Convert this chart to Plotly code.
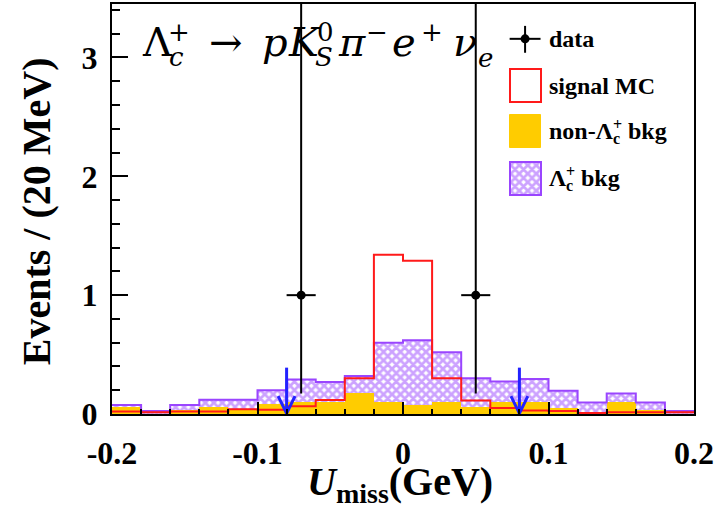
import numpy as np
import plotly.graph_objects as go

# ---------------- data ----------------
bin_low = -0.2
bin_width = 0.02
signal_mc = [0.02, 0.015, 0.02, 0.02, 0.04, 0.036, 0.065, 0.117, 0.30, 1.34,
             1.29, 0.30, 0.114, 0.05, 0.03, 0.025, 0.008, 0.015, 0.015, 0.015]
non_lc_bkg = [0.055, 0.0, 0.03, 0.055, 0.04, 0.08, 0.105, 0.10, 0.178, 0.105,
              0.078, 0.103, 0.055, 0.103, 0.105, 0.05, 0.0, 0.103, 0.035, 0.0]
lc_bkg = [0.02, 0.025, 0.045, 0.065, 0.08, 0.12, 0.185, 0.17, 0.142, 0.495,
          0.542, 0.417, 0.245, 0.17, 0.19, 0.145, 0.097, 0.07, 0.062, 0.025]
data_x = [-0.07, 0.05]
data_y = [1, 1]
data_err_lo = [0.827, 0.827]
data_err_hi = [2.5, 2.5]
data_xerr = [0.01, 0.01]
cut_values = [-0.08, 0.08]
arrow_top = 0.39
x_tick_vals = [-0.2, -0.1, 0, 0.1, 0.2]
x_tick_text = ["-0.2", "-0.1", "0", "0.1", "0.2"]
y_tick_vals = [0, 1, 2, 3]
y_tick_text = ["0", "1", "2", "3"]

# ---------------- style ----------------
W, H = 716, 515
ML, MR, MT, MB = 112, 20, 2, 101
YELLOW = "#ffcc00"
RED = "#ff1a1a"
PURPLE = "#9a45ff"
BLUE = "#2222ff"
SERIF = "Liberation Serif"
HATCH = dict(shape="x", fgcolor=PURPLE, bgcolor="white", size=6, solidity=0.7)

n = len(signal_mc)
edges = bin_low + bin_width * np.arange(n + 1)
centers = edges[:-1] + bin_width / 2
stack_top = np.array(non_lc_bkg) + np.array(lc_bkg)

def step(vals):
    return list(edges), list(vals) + [vals[-1]]

fig = go.Figure()

fig.add_trace(go.Bar(x=centers, y=non_lc_bkg, width=bin_width,
                     marker=dict(color=YELLOW, line=dict(width=0)),
                     showlegend=False))
fig.add_trace(go.Bar(x=centers, y=lc_bkg, base=non_lc_bkg, width=bin_width,
                     marker=dict(color="white", line=dict(width=0), pattern=HATCH),
                     showlegend=False))
sx, sy = step(list(stack_top))
fig.add_trace(go.Scatter(x=sx, y=sy, mode="lines", line=dict(shape="hv", color=PURPLE, width=2),
                         showlegend=False, hoverinfo="skip"))
sx, sy = step(signal_mc)
fig.add_trace(go.Scatter(x=sx, y=sy, mode="lines", line=dict(shape="hv", color=RED, width=2),
                         showlegend=False, hoverinfo="skip"))

# data points
fig.add_trace(go.Scatter(x=data_x, y=data_y, mode="markers",
                         marker=dict(color="black", size=9),
                         error_y=dict(type="data", symmetric=False, array=data_err_hi,
                                      arrayminus=data_err_lo, color="black", thickness=2, width=0),
                         error_x=dict(type="data", array=data_xerr, color="black", thickness=2, width=0),
                         showlegend=False))

# cut arrows
head_dx, head_dy = 0.0058, 0.15
for c in cut_values:
    fig.add_trace(go.Scatter(x=[c, c, None, c - head_dx, c, c + head_dx],
                             y=[arrow_top, 0.005, None, head_dy, 0.005, head_dy],
                             mode="lines", line=dict(color=BLUE, width=3),
                             showlegend=False, hoverinfo="skip"))

# ---------------- legend glyphs on a pixel-unit overlay axis ----------------
LEG = dict(x0=511, x1=542)
lx = (LEG["x0"] + LEG["x1"]) / 2
lw = LEG["x1"] - LEG["x0"]
fig.add_trace(go.Bar(x=[lx], y=[33], base=[67], width=[lw], xaxis="x2", yaxis="y2",
                     marker=dict(color="white", line=dict(color=RED, width=2)), showlegend=False))
fig.add_trace(go.Bar(x=[lx], y=[33], base=[114], width=[lw], xaxis="x2", yaxis="y2",
                     marker=dict(color=YELLOW, line=dict(color=YELLOW, width=1)), showlegend=False))
fig.add_trace(go.Bar(x=[lx], y=[33], base=[161], width=[lw], xaxis="x2", yaxis="y2",
                     marker=dict(color="white", line=dict(color=PURPLE, width=2), pattern=HATCH),
                     showlegend=False))
fig.add_trace(go.Scatter(x=[LEG["x0"], LEG["x1"], None, lx, lx], y=[37, 37, None, 24, 51],
                         xaxis="x2", yaxis="y2", mode="lines", line=dict(color="black", width=2),
                         showlegend=False, hoverinfo="skip"))
fig.add_trace(go.Scatter(x=[lx], y=[37], xaxis="x2", yaxis="y2", mode="markers",
                         marker=dict(color="black", size=9), showlegend=False, hoverinfo="skip"))

ann = []
leg_font = dict(family=SERIF, size=24, color="black", weight="bold")
leg_small = dict(family=SERIF, size=16, color="black", weight="bold")
leg_pieces = [
    ("data", 548, 37, leg_font),
    ("signal MC", 548, 84, leg_font),
    ("non-Λ", 548, 130, leg_font),
    ("+", 613, 123, leg_small),
    ("c", 613, 137, leg_small),
    ("bkg", 628, 130, leg_font),
    ("Λ", 548, 177, leg_font),
    ("+", 566, 170, leg_small),
    ("c", 566, 184, leg_small),
    ("bkg", 581, 177, leg_font),
]
for txt, xx, yy, f in leg_pieces:
    ann.append(dict(x=xx, y=yy, xref="x2", yref="y2", text=txt, showarrow=False,
                    xanchor="left", yanchor="middle", font=f))

# title formula, composed in pieces so sub/superscripts stack
MF = "DejaVu Serif"
big = dict(family=MF, size=40, color="black")
small = dict(family=MF, size=26, color="black")
by = 40
pieces = [
    ("Λ", 140, by, big),
    ("+", 166, by - 10, small),
    ("<i>c</i>", 167, by + 15, small),
    ("→", 207, by, big),
    ("<i>p</i>", 261, by, big),
    ("<i>K</i>", 287, by, big),
    ("0", 316, by - 10, small),
    ("<i>S</i>", 314, by + 15, small),
    ("<i>π</i>", 337, by, big),
    ("−", 365, by - 10, small),
    ("<i>e</i>", 391, by, big),
    ("+", 420, by - 10, small),
    ("<i>ν</i>", 452, by, big),
    ("<i>e</i>", 477, by + 16, small),
]
for txt, xx, yy, f in pieces:
    ann.append(dict(x=xx, y=yy, xref="x2", yref="y2", text=txt, showarrow=False,
                    xanchor="left", yanchor="middle", font=f))

def px_x(p):
    return (p - ML) / (W - ML - MR)

def px_y(p):
    return (H - MB - p) / (H - MT - MB)

ann.append(dict(x=px_x(37), y=px_y(210), xref="paper", yref="paper", textangle=-90,
                text="Events / (20 MeV)", showarrow=False, xanchor="center", yanchor="middle",
                font=dict(family=SERIF, size=40, color="black", weight="bold")))
ann.append(dict(x=px_x(401), y=px_y(484), xref="paper", yref="paper",
                text="<i>U</i><sub>miss</sub>(GeV)", showarrow=False, xanchor="center", yanchor="middle",
                font=dict(family=SERIF, size=40, color="black", weight="bold")))

tickfont = dict(family=SERIF, size=32, color="black", weight="bold")
fig.update_layout(
    width=W, height=H, margin=dict(l=ML, r=MR, t=MT, b=MB, pad=0),
    paper_bgcolor="white", plot_bgcolor="white", barmode="overlay", bargap=0,
    showlegend=False, annotations=ann,
    xaxis=dict(range=[-0.2, 0.2], tickvals=x_tick_vals, ticktext=x_tick_text, ticks="inside",
               ticklen=12, tickwidth=2, tickcolor="black", showline=True, linecolor="black",
               linewidth=2, mirror=True, showgrid=False, zeroline=False, tickfont=tickfont,
               ticklabelstandoff=10,
               minor=dict(dtick=0.02, tick0=-0.2, ticks="inside", ticklen=5, tickwidth=2,
                          tickcolor="black", showgrid=False)),
    yaxis=dict(range=[0, 3.45], tickvals=y_tick_vals, ticktext=y_tick_text, ticks="inside",
               ticklen=16, tickwidth=2, tickcolor="black", showline=True, linecolor="black",
               linewidth=2, mirror=True, showgrid=False, zeroline=False, tickfont=tickfont,
               ticklabelstandoff=6,
               minor=dict(dtick=0.2, tick0=0, ticks="inside", ticklen=8, tickwidth=2,
                          tickcolor="black", showgrid=False)),
    xaxis2=dict(overlaying="x", range=[ML, W - MR], visible=False, fixedrange=True),
    yaxis2=dict(overlaying="y", range=[H - MB, MT], visible=False, fixedrange=True),
)

fig.write_html("out.html")
